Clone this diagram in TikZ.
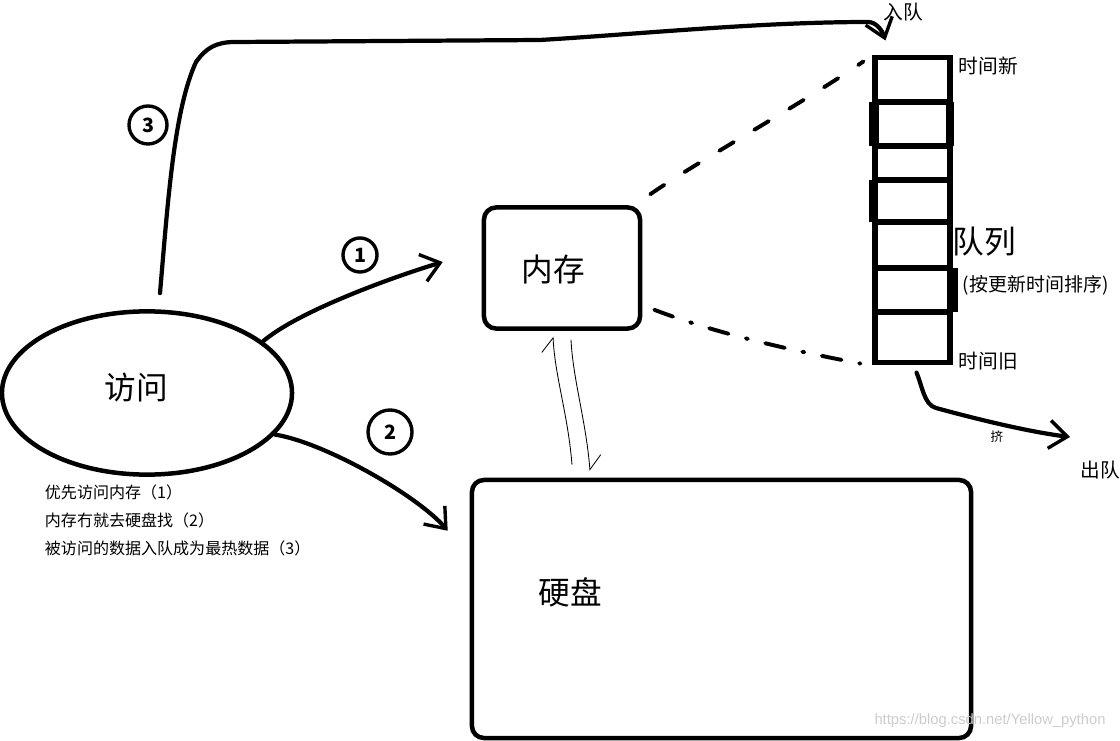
\documentclass[tikz,border=0pt]{standalone}
\usepackage{fontspec}
\setmainfont{Noto Sans CJK SC}
\newfontfamily\wmfont{Liberation Sans}
\usetikzlibrary{arrows.meta, shapes.geometric, positioning, calc}

\begin{document}
\begin{tikzpicture}[
  x=0.025cm, y=-0.025cm,
  every node/.style={font=\fontsize{14}{16}\selectfont},
  big/.style={font=\fontsize{22.5}{24}\selectfont},
  blob/.style={draw, ellipse, line width=3.2pt, minimum width=7.25cm, minimum height=4.08cm, inner sep=0pt},
  box/.style={draw, rounded corners=0.3cm, line width=3.2pt, inner sep=0pt},
  cell/.style={draw, line width=3.6pt, inner sep=0pt},
  num/.style={draw, circle, line width=2.4pt, inner sep=0pt, font=\bfseries\fontsize{14}{15}\selectfont},
  note/.style={anchor=west, font=\fontsize{11.4}{13}\selectfont},
  arr/.style={-{Straight Barb[length=4.5mm, width=7mm, line width=2.4pt]}, line width=3pt, line cap=round},
  thinarr/.style={-{Straight Barb[harpoon, length=3.5mm, width=6mm]}, line width=0.6pt},
  dsh/.style={line width=2.8pt, line cap=round, dash pattern=on 0.42cm off 0.6cm},
  dshdot/.style={line width=2.8pt, line cap=round, dash pattern=on 0.5cm off 0.45cm on 0.05cm off 0.45cm},
  wm/.style={text=gray!40, font=\wmfont\fontsize{10.5}{12}\selectfont}
]
  \useasboundingbox (0,0) rectangle (1120,741);

  % main blocks
  \node[blob] (access) at (147,393) {};
  \node[big] (accesstext) at (136,388) {访问};
  \node[box, minimum width=3.9cm, minimum height=3.025cm] (mem) at (562,268) {};
  \node[big] (memtext) at (553,270) {内存};
  \node[box, minimum width=12.475cm, minimum height=6.45cm] (disk) at (721.5,609) {};
  \node[big] (disktext) at (570,592) {硬盘};

  % queue of cells
  \node[cell, minimum width=1.875cm, minimum height=7.6cm] (queue) at (912.5,210) {};
  \foreach \y in {102,146,180,222,268,312}
    \draw[line width=3.6pt] (queue.west |- 0,\y) -- (queue.east |- 0,\y);
  \fill (869,102) rectangle (879,146);
  \fill (946,102) rectangle (954,146);
  \fill (869,180) rectangle (878,222);
  \fill (872,268) rectangle (878,312);
  \fill (947,268) rectangle (958,312);

  \node[anchor=west] (newest) at (954,66) {时间新};
  \node[anchor=west] (oldest) at (954,361) {时间旧};
  \node[big, anchor=west] (qname) at (948,242) {队列};
  \node[anchor=west, font=\fontsize{13.5}{15}\selectfont] (qorder) at (958,285) {(按更新时间排序)};
  \node (enq) at (903,12) {入队};
  \node (deq) at (1100,470) {出队};
  \node[font=\fontsize{9}{10}\selectfont] (squeeze) at (997,437) {挤};

  % notes
  \node[note] (n1) at (40,492) {优先访问内存（1）};
  \node[note] (n2) at (40,520) {内存冇就去硬盘找（2）};
  \node[note] (n3) at (40,548) {被访问的数据入队成为最热数据（3）};

  % step numbers
  \node[num, minimum size=0.85cm] (c1) at (360,255) {1};
  \node[num, minimum size=1.1cm] (c2) at (390,432) {2};
  \node[num, minimum size=0.95cm] (c3) at (148,125) {3};

  \coordinate (outq) at (1070,437);

  \draw[arr] (access.24) .. controls +(35,-30) and +(-50,15) .. ($(mem.west)+(-39,-6)$);
  \draw[arr] (access.-18) .. controls +(50,8) and +(-30,-35) .. ($(disk.north west)+(-22,53)$);
  \draw[arr] ($(access.north)+(13,-16)$) .. controls (168,200) and (174,110) .. (196,62)
    .. controls (206,48) and (216,42) .. (235,42) -- (540,40)
    .. controls (640,34) and (760,22) .. (868,22)
    .. controls (876,22) and (882,30) .. ($(queue.north west)+(13,-15)$);
  \draw[arr] ($(queue.south)+(4,8)$) .. controls (922,385) and (924,405) .. (936,408)
    .. controls (980,420) and (1030,432) .. (outq);

  % memory <-> queue ends
  \draw[dsh] ($(mem.north east)+(8,-11)$) .. controls (700,160) and (800,105) .. ($(queue.north west)+(-9,6)$);
  \draw[dshdot] ($(mem.south east)+(12,-21)$) .. controls (720,335) and (800,352) .. ($(queue.south west)+(-12,-1)$);

  % disk <-> memory
  \draw[thinarr] ($(disk.north -| mem.south)+(10,-13)$) .. controls +(-4,-50) and +(2,40) .. ($(mem.south)+(-9,6)$);
  \draw[thinarr] ($(mem.south)+(9,9)$) .. controls +(2,40) and +(-4,-50) .. ($(disk.north -| mem.south)+(28,-7)$);

  \node[wm] (mark) at (990,721) {https://blog.csdn.net/Yellow\_python};
\end{tikzpicture}
\end{document}
